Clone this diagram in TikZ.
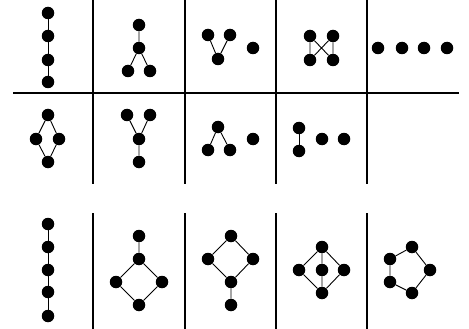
\documentclass[tikz,border=0pt]{standalone}
\usepackage{tikz}
\tikzset{
  vtx/.style={circle, fill=black, draw=none, inner sep=0pt, minimum size=12.5pt},
  edge/.style={line width=0.9pt, black},
  rule/.style={line width=1.1pt, black}
}

\begin{document}
\begin{tikzpicture}[x=1pt,y=-1pt]
  \useasboundingbox (0,0) rectangle (469,329);

  % table rules
  \draw[rule] (13,93) -- (459,93);
  \foreach \x in {93,185,276,367}
    {\draw[rule] (\x,0) -- (\x,184);
     \draw[rule] (\x,213) -- (\x,329);}

  % row 1
  \foreach \i/\y in {1/13,2/36,3/60,4/82}
    {\node[vtx] (a\i) at (48,\y) {};}
  \draw[edge] (a1) -- (a2) -- (a3) -- (a4);

  \node[vtx] (b1) at (139,25) {};
  \node[vtx] (b2) at (139,48) {};
  \node[vtx] (b3) at (128,71) {};
  \node[vtx] (b4) at (150,71) {};
  \draw[edge] (b1) -- (b2) (b2) -- (b3) (b2) -- (b4);

  \node[vtx] (c1) at (208,35) {};
  \node[vtx] (c2) at (230,35) {};
  \node[vtx] (c3) at (218,59) {};
  \node[vtx] (c4) at (253,48) {};
  \draw[edge] (c1) -- (c3) -- (c2);

  \node[vtx] (d1) at (310,36) {};
  \node[vtx] (d2) at (333,36) {};
  \node[vtx] (d3) at (310,60) {};
  \node[vtx] (d4) at (333,60) {};
  \draw[edge] (d1) -- (d3) (d2) -- (d4) (d1) -- (d4) (d2) -- (d3);

  \foreach \i/\x in {1/378,2/402,3/424,4/447}
    {\node[vtx] (e\i) at (\x,48) {};}

  % row 2
  \node[vtx] (f1) at (48,115) {};
  \node[vtx] (f2) at (36,139) {};
  \node[vtx] (f3) at (59,139) {};
  \node[vtx] (f4) at (48,162) {};
  \draw[edge] (f1) -- (f2) -- (f4) -- (f3) -- (f1);

  \node[vtx] (g1) at (127,115) {};
  \node[vtx] (g2) at (150,115) {};
  \node[vtx] (g3) at (139,139) {};
  \node[vtx] (g4) at (139,162) {};
  \draw[edge] (g1) -- (g3) (g2) -- (g3) (g3) -- (g4);

  \node[vtx] (h1) at (218,127) {};
  \node[vtx] (h2) at (208,150) {};
  \node[vtx] (h3) at (230,150) {};
  \node[vtx] (h4) at (253,139) {};
  \draw[edge] (h2) -- (h1) -- (h3);

  \node[vtx] (k1) at (299,128) {};
  \node[vtx] (k2) at (299,151) {};
  \node[vtx] (k3) at (322,139) {};
  \node[vtx] (k4) at (344,139) {};
  \draw[edge] (k1) -- (k2);

  % row 3
  \foreach \i/\y in {1/224,2/247,3/270,4/292,5/316}
    {\node[vtx] (m\i) at (48,\y) {};}
  \draw[edge] (m1) -- (m2) -- (m3) -- (m4) -- (m5);

  \node[vtx] (n1) at (139,236) {};
  \node[vtx] (n2) at (139,259) {};
  \node[vtx] (n3) at (116,282) {};
  \node[vtx] (n4) at (162,282) {};
  \node[vtx] (n5) at (139,305) {};
  \draw[edge] (n1) -- (n2) (n2) -- (n3) -- (n5) -- (n4) -- (n2);

  \node[vtx] (p1) at (231,236) {};
  \node[vtx] (p2) at (208,259) {};
  \node[vtx] (p3) at (253,259) {};
  \node[vtx] (p4) at (231,282) {};
  \node[vtx] (p5) at (231,305) {};
  \draw[edge] (p1) -- (p2) -- (p4) -- (p3) -- (p1) (p4) -- (p5);

  \node[vtx] (q1) at (322,247) {};
  \node[vtx] (q2) at (299,270) {};
  \node[vtx] (q3) at (322,270) {};
  \node[vtx] (q4) at (344,270) {};
  \node[vtx] (q5) at (322,293) {};
  \draw[edge] (q1) -- (q2) -- (q5) -- (q4) -- (q1) (q1) -- (q3) -- (q5);

  \node[vtx] (r1) at (390,259) {};
  \node[vtx] (r2) at (412,247) {};
  \node[vtx] (r3) at (430,270) {};
  \node[vtx] (r4) at (412,293) {};
  \node[vtx] (r5) at (390,282) {};
  \draw[edge] (r1) -- (r2) -- (r3) -- (r4) -- (r5) -- (r1);
\end{tikzpicture}
\end{document}
